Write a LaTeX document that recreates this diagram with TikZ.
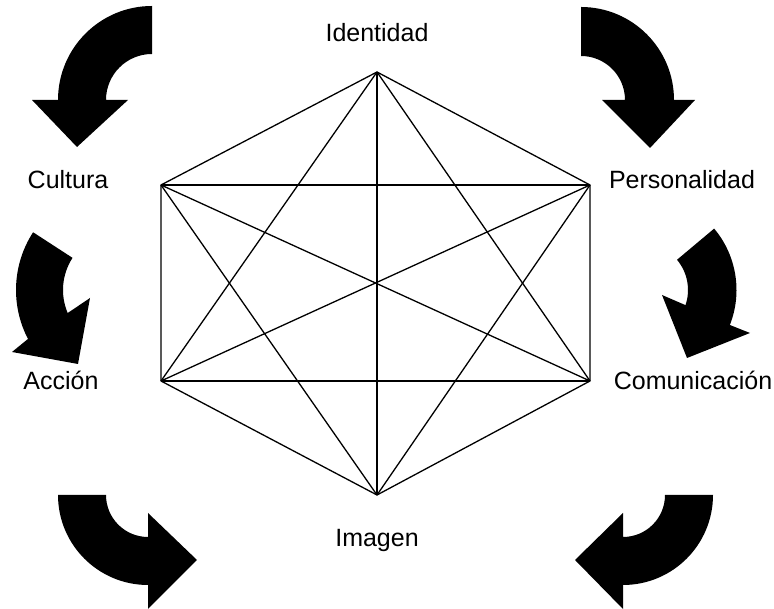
\documentclass[tikz,border=0pt]{standalone}
\usepackage{fontspec}
\setmainfont{Liberation Sans}
\begin{document}
\begin{tikzpicture}[x=1pt,y=1pt,
  edge/.style={line width=1.3pt,line join=round},
  lbl/.style={font=\fontsize{25}{29}\selectfont,inner sep=0pt},
  bigarrow/.style={fill=black}]
\useasboundingbox (0,0) rectangle (774,609);
% hexagon vertices
\coordinate (T)  at (377,537);
\coordinate (UL) at (161,424);
\coordinate (UR) at (590,424);
\coordinate (LL) at (161,228);
\coordinate (LR) at (590,228);
\coordinate (B)  at (377,114);
% complete graph on six vertices
\draw[edge] (T) -- (UR) -- (LR) -- (B) -- (LL) -- (UL) -- cycle;
\draw[edge] (T) -- (B);
\draw[edge] (T) -- (LL);
\draw[edge] (T) -- (LR);
\draw[edge] (UL) -- (UR);
\draw[edge] (LL) -- (LR);
\draw[edge] (UL) -- (B);
\draw[edge] (UR) -- (B);
\draw[edge] (UL) -- (LR);
\draw[edge] (UR) -- (LL);
% labels
\node[lbl] (identidad) at (377,576) {Identidad};
\node[lbl] (cultura) at (68,429) {Cultura};
\node[lbl] (personalidad) at (682,429) {Personalidad};
\node[lbl] (accion) at (61,229) {Acción};
\node[lbl] (comunicacion) at (693,229) {Comunicación};
\node[lbl] (imagen) at (377,68) {Imagen};
% arrow 1 (top left)
\fill[bigarrow,shift={(152,509)}] (90:94) arc[start angle=90,end angle=180,radius=94]
  -- (-120,0) -- (-75,-47) -- (-24,0) -- (180:46) arc[start angle=180,end angle=90,radius=46] -- cycle;
% arrow 2 (top right)
\fill[bigarrow,shift={(581,509)}] (90:93) arc[start angle=90,end angle=0,radius=93]
  -- (114,0) -- (69,-48) -- (21,0) -- (0:44) arc[start angle=0,end angle=90,radius=44] -- cycle;
% arrow 3 (middle left)
\fill[bigarrow,shift={(122,319)}] (147:106) arc[start angle=147,end angle=207.5,radius=106]
  -- (-110,-62) -- (-44,-74) -- (-32,-8) -- (203:59) arc[start angle=203,end angle=147,radius=59] -- cycle;
% arrow 4 (middle right)
\fill[bigarrow,shift={(641,319)}] (40:95.5) arc[start angle=40,end angle=-21.5,radius=95.5]
  -- (109,-43) -- (46,-68) -- (21,-5) -- (-18.8:47) arc[start angle=-18.8,end angle=40,radius=47] -- cycle;
% arrow 5 (bottom left)
\fill[bigarrow,shift={(148,114)}] (180:90) arc[start angle=180,end angle=270,radius=90]
  -- (0,-114) -- (49,-65) -- (0,-18) -- (270:42) arc[start angle=270,end angle=180,radius=42] -- cycle;
% arrow 6 (bottom right)
\fill[bigarrow,shift={(623,114)}] (0:90) arc[start angle=0,end angle=-90,radius=90]
  -- (0,-114) -- (-48,-65) -- (0,-18) -- (-90:42) arc[start angle=-90,end angle=0,radius=42] -- cycle;
\end{tikzpicture}
\end{document}
